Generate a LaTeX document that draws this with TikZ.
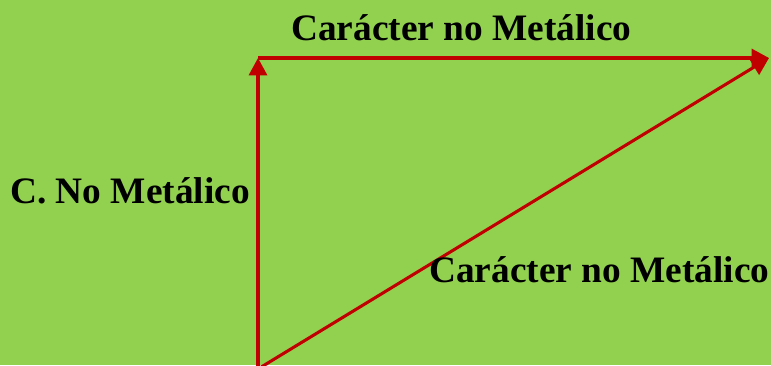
\documentclass[tikz,border=0pt]{standalone}
\usepackage{fontspec}
\setmainfont{Liberation Serif}
\usetikzlibrary{arrows.meta, positioning}
\definecolor{leafgreen}{HTML}{92D050}
\definecolor{vecred}{HTML}{C00000}

\begin{document}
\begin{tikzpicture}[x=0.75pt, y=0.75pt, >={Triangle[length=13pt, width=13.5pt]},
  vecline/.style={draw=vecred, line width=2.3pt, ->},
  vlabel/.style={font=\fontsize{28}{32}\selectfont\bfseries, text=black, inner sep=0pt}
]

% Background
\fill[leafgreen] (0,0) rectangle (771,365);
\useasboundingbox (0,0) rectangle (771,365);

% Corners of the triangle
\coordinate (origin) at (258,-4);
\coordinate (top-left) at (258,307);
\coordinate (top-right) at (769,307);

% Vectors
\draw[vecline] (origin) -- (top-left);
\draw[vecline] (top-left) -- (top-right);
\draw[vecline] (origin) -- (top-right);

% Labels
\node[vlabel, anchor=base west] (top-label) at (291,325) {Carácter no Metálico};
\node[vlabel, anchor=base west] (side-label) at (10,162) {C. No Metálico};
\node[vlabel, anchor=base west] (diag-label) at (429,83) {Carácter no Metálico};

\end{tikzpicture}
\end{document}
